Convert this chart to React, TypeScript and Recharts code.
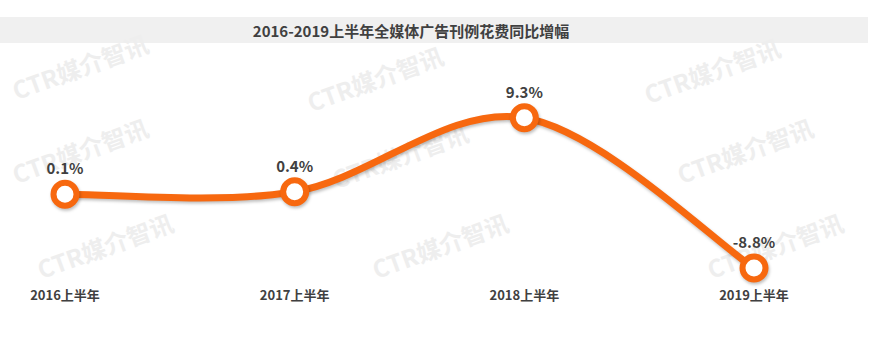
import { LineChart, Line, XAxis, YAxis, LabelList } from 'recharts'

const categories = ['2016上半年', '2017上半年', '2018上半年', '2019上半年']
const growth = [0.1, 0.4, 9.3, -8.8]
const title = '2016-2019上半年全媒体广告刊例花费同比增幅'
const watermark = 'CTR媒介智讯'

const data = categories.map((name, i) => ({ name, value: growth[i] }))

const ORANGE = '#F7680F'
const TEXT = '#404040'
const FONT = "'Noto Sans CJK SC', 'Noto Sans', sans-serif"

// watermark centres, three rows
const marks = [
  [80, 66], [375, 78], [712, 70],
  [80, 150], [400, 155], [745, 150],
  [105, 245], [440, 245], [775, 245],
]

// Excel-like smoothed line (Catmull-Rom through the points)
function smoothCurve(context: any) {
  let pts: number[][] = []
  return {
    areaStart() {},
    areaEnd() {},
    lineStart() {
      pts = []
    },
    lineEnd() {
      if (!pts.length) return
      context.moveTo(pts[0][0], pts[0][1])
      for (let i = 0; i < pts.length - 1; i++) {
        const p0 = pts[Math.max(i - 1, 0)]
        const p1 = pts[i]
        const p2 = pts[i + 1]
        const p3 = pts[Math.min(i + 2, pts.length - 1)]
        context.bezierCurveTo(
          p1[0] + (p2[0] - p0[0]) / 6,
          p1[1] + (p2[1] - p0[1]) / 6,
          p2[0] - (p3[0] - p1[0]) / 6,
          p2[1] - (p3[1] - p1[1]) / 6,
          p2[0],
          p2[1]
        )
      }
    },
    point(x: number, y: number) {
      pts.push([+x, +y])
    },
  }
}

const CategoryTick = ({ x, y, payload }: any) => (
  <text x={x} y={y} dy={22} textAnchor="middle" fill={TEXT} fontSize={13} fontWeight={700} fontFamily={FONT}>
    {payload.value}
  </text>
)

export default function App() {
  return (
    <div style={{ position: 'absolute', left: 0, top: 0, width: 874, height: 355, background: '#fff' }}>
      <svg width={874} height={355} style={{ position: 'absolute', left: 0, top: 0 }}>
        <rect x={0} y={17} width={868} height={26} fill="#f0f0f0" />
        {marks.map(([cx, cy], i) => (
          <text
            key={i}
            x={cx}
            y={cy}
            textAnchor="middle"
            dominantBaseline="central"
            transform={`rotate(-20 ${cx} ${cy})`}
            fill="#eeeeee"
            fontSize={24}
            fontWeight={700}
            fontFamily={FONT}
          >
            {watermark}
          </text>
        ))}
        <text x={411} y={30} textAnchor="middle" dominantBaseline="central" fill={TEXT} fontSize={15} fontWeight={700} fontFamily={FONT}>
          {title}
        </text>
      </svg>
      <div style={{ position: 'absolute', left: 0, top: 0 }}>
        <LineChart width={874} height={355} data={data} margin={{ top: 112, right: 120, bottom: 47, left: 65 }}>
          <XAxis
            dataKey="name"
            height={30}
            axisLine={false}
            tickLine={false}
            tickSize={0}
            tickMargin={0}
            tick={<CategoryTick />}
            interval={0}
          />
          <YAxis hide width={0} domain={[-10, 10]} />
          <Line
            dataKey="value"
            type={smoothCurve as any}
            stroke={ORANGE}
            strokeWidth={7}
            style={{ filter: 'drop-shadow(1px 2px 1.5px rgba(0,0,0,0.25))' }}
            dot={{ r: 11.5, fill: '#fff', stroke: ORANGE, strokeWidth: 6 }}
            activeDot={false}
            isAnimationActive={false}
          >
            <LabelList
              dataKey="value"
              position="top"
              offset={20}
              formatter={(v: any) => `${v}%`}
              fill={TEXT}
              fontSize={15}
              fontWeight={700}
              fontFamily={FONT}
            />
          </Line>
        </LineChart>
      </div>
    </div>
  )
}
